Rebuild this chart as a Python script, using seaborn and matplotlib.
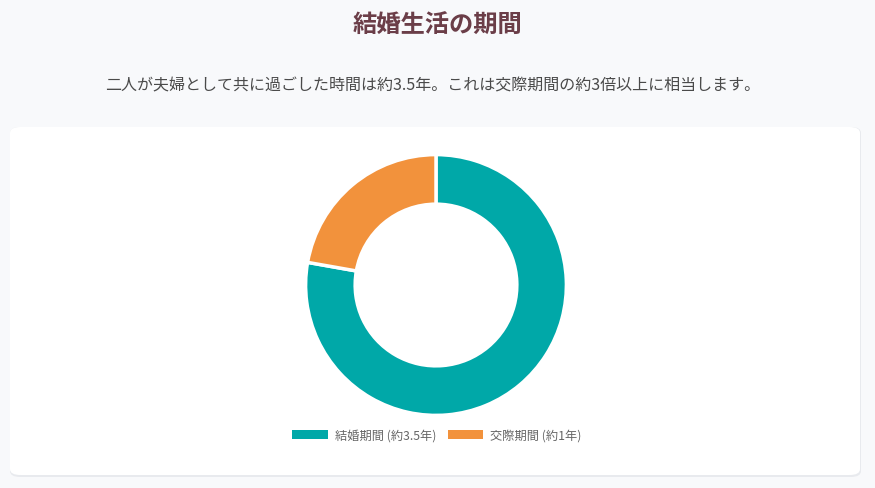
import matplotlib
matplotlib.use("Agg")
import matplotlib.pyplot as plt
import seaborn as sns
from matplotlib.patches import FancyBboxPatch

# data
labels = ["結婚期間 (約3.5年)", "交際期間 (約1年)"]
years = [3.5, 1.0]
colors = ["#00A8A8", "#F2923C"]

title = "結婚生活の期間"
subtitle = "二人が夫婦として共に過ごした時間は約3.5年。これは交際期間の約3倍以上に相当します。"

sns.set_theme(style="white")
plt.rcParams['font.family'] = ['Noto Sans CJK JP', 'DejaVu Sans']

W, H = 875, 489
fig = plt.figure(figsize=(W / 100, H / 100), dpi=100)
fig.patch.set_facecolor("#F8F9FB")

# card with soft shadow (card spans y=128..476 px from top)
shadow = FancyBboxPatch((10 / W, (H - 478) / H), 851 / W, 350 / H,
                        boxstyle="round,pad=0,rounding_size=0.012",
                        transform=fig.transFigure, facecolor="#E8EAEE",
                        edgecolor="none", zorder=0)
card = FancyBboxPatch((10 / W, (H - 476) / H), 850 / W, 348 / H,
                      boxstyle="round,pad=0,rounding_size=0.012",
                      transform=fig.transFigure, facecolor="white",
                      edgecolor="none", zorder=1)
fig.patches.extend([shadow, card])

fig.text(437 / W, 1 - 26 / H, title, ha="center", va="center",
         fontsize=17.5, fontweight="bold", color="#6B3E48")
fig.text(433 / W, 1 - 86 / H, subtitle, ha="center", va="center",
         fontsize=11.5, color="#4A4A4A")

cx, cy, r = 436, 286, 133
ax = fig.add_axes([(cx - r) / W, (H - cy - r) / H, 2 * r / W, 2 * r / H])
ax.set_zorder(2)
wedges, _ = ax.pie(years, colors=colors, startangle=90, counterclock=False,
                   wedgeprops=dict(width=0.38, edgecolor="white", linewidth=2.5))
ax.set_xlim(-1.02, 1.02)
ax.set_ylim(-1.02, 1.02)
ax.set_aspect("equal")
ax.axis("off")

leg = fig.legend(wedges, labels, loc="center", bbox_to_anchor=(437 / W, 1 - 436 / H),
                 ncol=2, frameon=False, fontsize=8.8, handlelength=2.9,
                 handleheight=0.8, handletextpad=0.6, columnspacing=0.9)
for t in leg.get_texts():
    t.set_color("#666666")
for h in leg.legend_handles:
    h.set_linewidth(0)

fig.savefig("out.png", dpi=100, facecolor=fig.get_facecolor())
